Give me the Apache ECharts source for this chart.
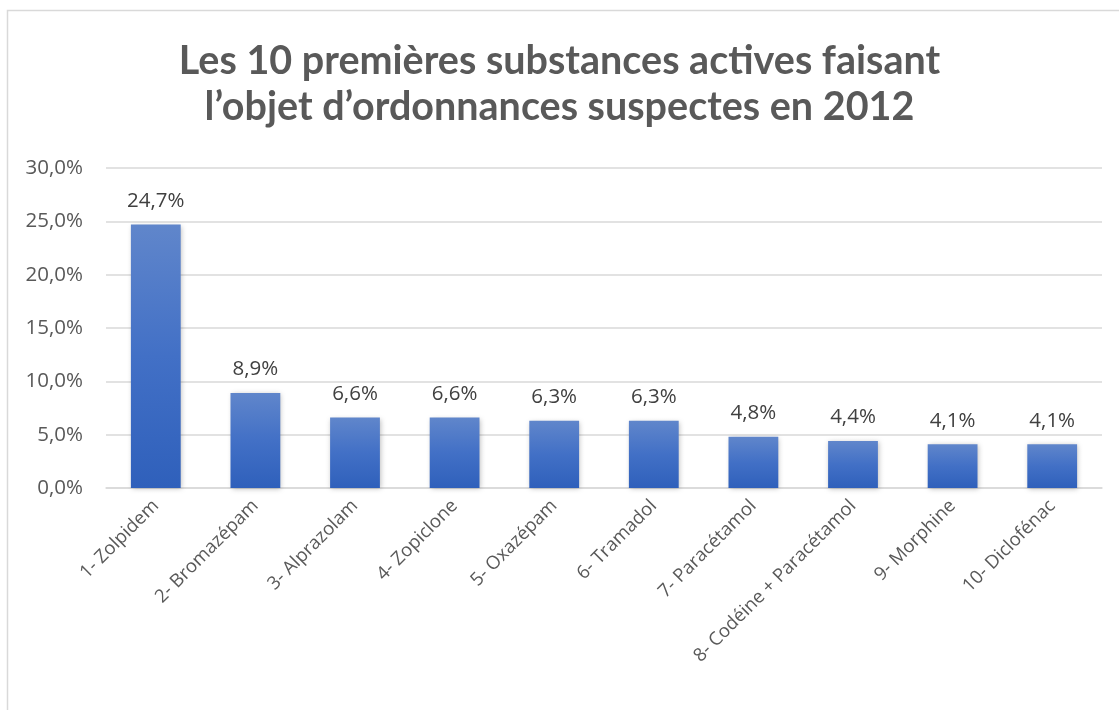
<!DOCTYPE html>
<html>
<head>
<meta charset="utf-8">
<script src="https://cdn.jsdelivr.net/npm/echarts@6/dist/echarts.min.js"></script>
<style>
  html, body { margin: 0; padding: 0; background: #fff; }
  #chart { width: 1119px; height: 710px; }
</style>
</head>
<body>
<div id="chart"></div>
<script>
// Substances actives les plus citées dans les ordonnances suspectes (2012)
const categories = [
  '1- Zolpidem', '2- Bromazépam', '3- Alprazolam', '4- Zopiclone', '5- Oxazépam',
  '6- Tramadol', '7- Paracétamol', '8- Codéine + Paracétamol', '9- Morphine', '10- Diclofénac'
];
const shares = [24.7, 8.9, 6.6, 6.6, 6.3, 6.3, 4.8, 4.4, 4.1, 4.1];
const yTicks = [0, 5, 10, 15, 20, 25, 30];

const fmt = v => v.toFixed(1).replace('.', ',') + '%';
const TITLE_FONT = 'Lato';
const FONT = 'Open Sans';

const chart = echarts.init(document.getElementById('chart'), null, { renderer: 'canvas' });
chart.setOption({
  backgroundColor: '#ffffff',
  animation: false,
  textStyle: { fontFamily: FONT },
  title: {
    text: 'Les 10 premières substances actives faisant\nl\u2019objet d\u2019ordonnances suspectes en 2012',
    left: 'center',
    top: 33,
    textStyle: {
      fontFamily: TITLE_FONT,
      fontSize: 39.5,
      fontWeight: 'bold',
      color: '#595959',
      lineHeight: 46
    }
  },
  graphic: [{
    type: 'rect',
    shape: { x: 7.5, y: 10.5, width: 1300, height: 900 },
    style: { fill: 'none', stroke: '#d9d9d9', lineWidth: 1.5 },
    silent: true,
    z: -1
  }],
  grid: { left: 106, right: 17, top: 168, bottom: 222, containLabel: false },
  xAxis: {
    type: 'category',
    data: categories,
    axisLine: { show: true, lineStyle: { color: '#d9d9d9', width: 1.5 } },
    axisTick: { show: false },
    axisLabel: {
      rotate: 45,
      interval: 0,
      margin: 15,
      fontFamily: FONT,
      fontSize: 18.5,
      color: '#595959'
    }
  },
  yAxis: {
    type: 'value',
    min: yTicks[0],
    max: yTicks[yTicks.length - 1],
    interval: 5,
    axisLine: { show: false },
    axisTick: { show: false },
    splitLine: { lineStyle: { color: '#d9d9d9', width: 1.5 } },
    axisLabel: {
      margin: 23,
      fontFamily: FONT,
      fontSize: 20.5,
      color: '#595959',
      formatter: v => fmt(v)
    }
  },
  series: [{
    type: 'bar',
    data: shares,
    barWidth: '50%',
    itemStyle: {
      color: new echarts.graphic.LinearGradient(0, 0, 0, 1, [
        { offset: 0, color: '#6086cb' },
        { offset: 0.5, color: '#4270c6' },
        { offset: 1, color: '#2f60bb' }
      ]),
      shadowColor: 'rgba(0,0,0,0.25)',
      shadowBlur: 5,
      shadowOffsetX: 1,
      shadowOffsetY: 1
    },
    label: {
      show: true,
      position: 'top',
      distance: 13,
      fontFamily: FONT,
      fontSize: 20.5,
      color: '#404040',
      formatter: p => fmt(p.value)
    }
  }]
});
</script>
</body>
</html>
